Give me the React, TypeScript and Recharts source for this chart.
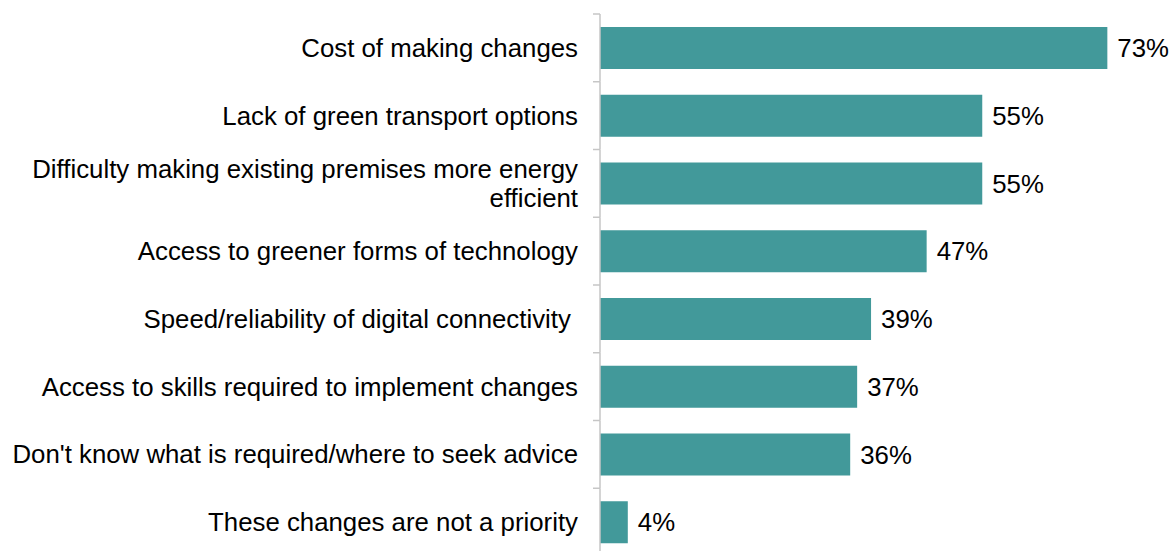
import React from 'react';
import { BarChart, Bar, XAxis, YAxis, LabelList } from 'recharts';

const categories = [
  'Cost of making changes',
  'Lack of green transport options',
  'Difficulty making existing premises more energy efficient',
  'Access to greener forms of technology',
  'Speed/reliability of digital connectivity ',
  'Access to skills required to implement changes',
  "Don't know what is required/where to seek advice",
  'These changes are not a priority',
];

const shares = [73, 55, 55, 47, 39, 37, 36, 4];

// labels that wrap onto two lines in the original
const wrappedLines: Record<string, string[]> = {
  'Difficulty making existing premises more energy efficient': [
    'Difficulty making existing premises more energy',
    'efficient',
  ],
};

const data = categories.map((name, i) => ({ name, value: shares[i] }));

const FONT = 'Liberation Sans, Arial, sans-serif';
const AXIS_COLOR = '#c6c6c6';
const TICK_SIZE = 6;
const TICK_MARGIN = 16;

// category label plus the axis segment and boundary tick marks for its band
const CategoryTick = (props: any) => {
  const { x, y, payload, index, visibleTicksCount } = props;
  const half = payload.offset || 0;
  const axisX = x + TICK_SIZE + TICK_MARGIN;
  const lines = wrappedLines[payload.value] || [payload.value];
  const lineHeight = 29.5;
  const startDy = -((lines.length - 1) * lineHeight) / 2;
  const isLast = index === visibleTicksCount - 1;
  return (
    <g>
      <line x1={axisX} x2={axisX} y1={y - half} y2={y + half} stroke={AXIS_COLOR} strokeWidth={1.5} />
      <line x1={axisX - 7} x2={axisX} y1={y - half} y2={y - half} stroke={AXIS_COLOR} strokeWidth={1.5} />
      {isLast && (
        <line x1={axisX - 7} x2={axisX} y1={y + half} y2={y + half} stroke={AXIS_COLOR} strokeWidth={1.5} />
      )}
      <text
        x={x}
        y={y}
        textAnchor="end"
        fill="#000"
        fontSize={25.8}
        fontFamily={FONT}
        style={{ whiteSpace: 'pre' }}
      >
        {lines.map((line, i) => (
          <tspan key={i} x={x} dy={i === 0 ? startDy : lineHeight} dominantBaseline="central">
            {line}
          </tspan>
        ))}
      </text>
    </g>
  );
};

const App: React.FC = () => {
  return (
    <div style={{ position: 'absolute', left: 0, top: 0, width: 1173, height: 551, overflow: 'hidden', background: '#fff' }}>
      <BarChart
        width={1173}
        height={560}
        data={data}
        layout="vertical"
        margin={{ top: 14, right: 17, left: 0, bottom: 4 }}
      >
        <XAxis type="number" domain={[0, 80]} hide />
        <YAxis
          type="category"
          dataKey="name"
          width={600}
          axisLine={false}
          tickLine={false}
          tickSize={TICK_SIZE}
          tickMargin={TICK_MARGIN}
          tick={<CategoryTick />}
          interval={0}
        />
        <Bar dataKey="value" fill="#42999a" barSize={42} isAnimationActive={false}>
          <LabelList
            dataKey="value"
            position="right"
            offset={10}
            formatter={(v: any) => `${v}%`}
            fill="#000"
            fontSize={25.8}
            fontFamily={FONT}
          />
        </Bar>
      </BarChart>
    </div>
  );
};

export default App;
